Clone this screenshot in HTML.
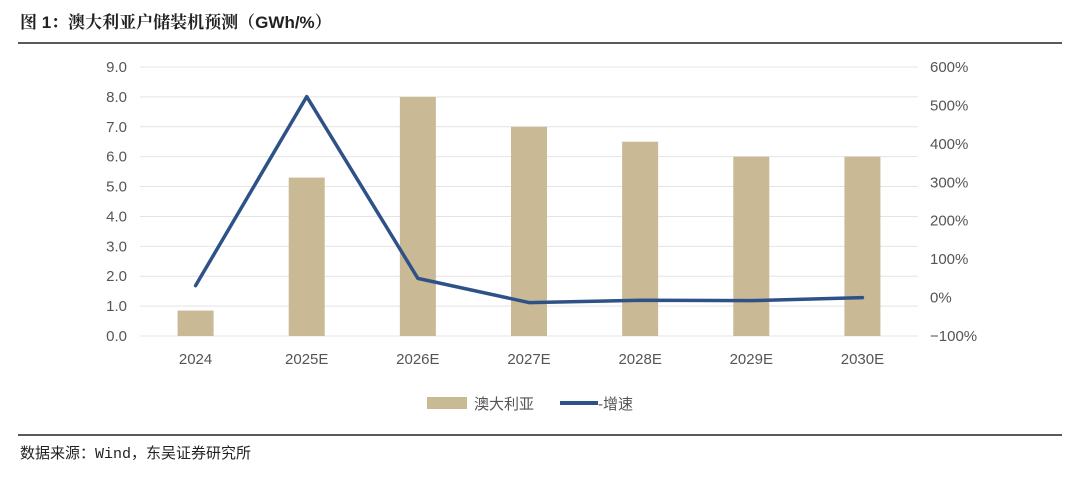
<!DOCTYPE html>
<html><head><meta charset="utf-8"><style>
body{margin:0;background:#fff;width:1080px;height:478px;overflow:hidden;font-family:"Liberation Sans","Noto Sans CJK SC",sans-serif}
</style></head><body>
<svg width="1080" height="478" xmlns="http://www.w3.org/2000/svg">
<text x="20" y="28" font-size="17" font-weight="bold" fill="#222" font-family="Liberation Sans, Noto Serif CJK SC, Noto Sans CJK SC, sans-serif">图 1：澳大利亚户储装机预测（GWh/%）</text>
<line x1="18" y1="43" x2="1062" y2="43" stroke="#222" stroke-width="1.5"/>
<g id="grid"></g><g id="bars"></g><g id="line"></g><g id="axes"></g>
<rect x="427" y="397" width="40" height="12" fill="#c9b995"/>
<text x="474" y="409" font-size="15" fill="#555" font-family="Liberation Sans, Noto Sans CJK SC, sans-serif">澳大利亚</text>
<line x1="560" y1="403" x2="598" y2="403" stroke="#2e5288" stroke-width="4"/>
<text x="598" y="409" font-size="15" fill="#555" font-family="Liberation Sans, Noto Sans CJK SC, sans-serif">-增速</text>
<line x1="18" y1="435" x2="1062" y2="435" stroke="#222" stroke-width="1.5"/>
<text x="20" y="458" font-size="15" fill="#222" font-family="Liberation Mono, Noto Sans CJK SC, sans-serif">数据来源：Wind，东吴证券研究所</text>
</svg>
<script>
const categories=["2024","2025E","2026E","2027E","2028E","2029E","2030E"];
const capacity=[0.85,5.3,8.0,7.0,6.5,6.0,6.0];
const growth=[31,523,50,-13,-7,-8,0];
const leftTicks=[0,1,2,3,4,5,6,7,8,9];
const rightTicks=[-100,0,100,200,300,400,500,600];
const NS="http://www.w3.org/2000/svg";
const yTop=67,yBot=336,x0=140,x1=918;
const yL=v=>yBot-(v/9)*(yBot-yTop);
const yR=v=>yBot-((v+100)/700)*(yBot-yTop);
const step=(x1-x0)/categories.length;
const xC=i=>x0+step*(i+0.5);
function mk(t,a,p){const e=document.createElementNS(NS,t);for(const k in a)e.setAttribute(k,a[k]);document.getElementById(p).appendChild(e);return e;}
leftTicks.forEach(v=>{
 const g=mk("line",{x1:x0,x2:x1,y1:yL(v),y2:yL(v),stroke:"#e4e4e4","stroke-width":1},"grid");
 
 
 const t=mk("text",{x:127,y:yL(v)+5,"text-anchor":"end","font-size":15,fill:"#555"},"axes");
 t.textContent=v.toFixed(1);
 
 
});
rightTicks.forEach(v=>{
 const t=mk("text",{x:930,y:yR(v)+5,"font-size":15,fill:"#555"},"axes");
 t.textContent=(v<0?"−":"")+Math.abs(v)+"%";
 
 
});
categories.forEach((c,i)=>{
 const b=mk("rect",{x:xC(i)-18,y:yL(capacity[i]),width:36,height:yBot-yL(capacity[i]),fill:"#c9b995"},"bars");
 
 
 const t=mk("text",{x:xC(i),y:364,"text-anchor":"middle","font-size":15,fill:"#555"},"axes");
 t.textContent=c;
 
 
});
const p=mk("polyline",{points:growth.map((g,i)=>xC(i)+","+yR(g)).join(" "),fill:"none",stroke:"#2e5288","stroke-width":3.5,"stroke-linejoin":"round","stroke-linecap":"round"},"line");


</script>
</body></html>
